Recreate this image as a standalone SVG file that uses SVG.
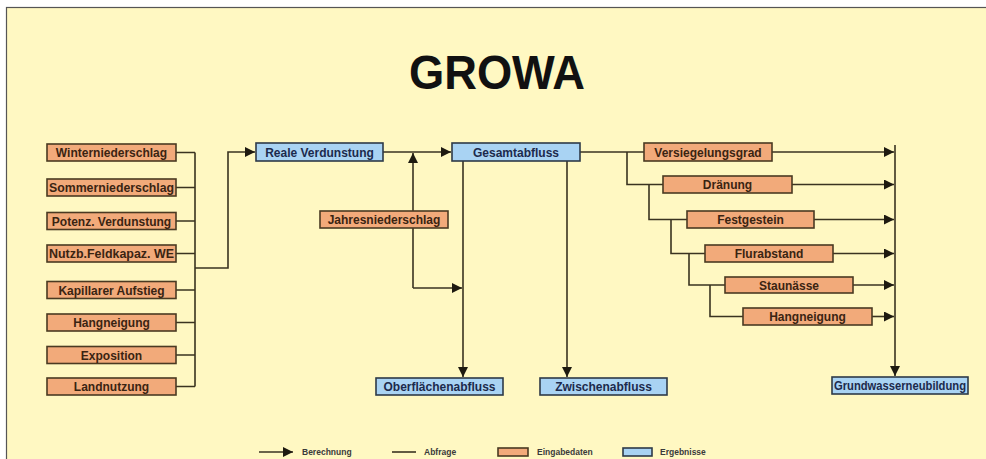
<svg xmlns="http://www.w3.org/2000/svg" width="986" height="459" viewBox="0 0 986 459">
<defs>
<marker id="arr" markerUnits="userSpaceOnUse" markerWidth="11" markerHeight="10" refX="10" refY="5" orient="auto">
<path d="M0,0 L10,5 L0,10 z" fill="#1e1a10"/>
</marker>
<style>
.in rect{fill:#f2aa7a;stroke:#4a3a22;stroke-width:1.6}
.out rect{fill:#a9d3f3;stroke:#2e3a48;stroke-width:1.6}
.in text{fill:#3a2412}
.out text{fill:#1c2a4c}
text{font-family:"Liberation Sans",Arial,sans-serif;font-weight:bold;font-size:12px;text-anchor:middle}
.c path,.c line{fill:none;stroke:#3a3320;stroke-width:1.6}
.lg{font-size:8.5px;text-anchor:start;fill:#3a3a3a}
</style>
</defs>
<rect x="0" y="0" width="986" height="459" fill="#ffffff"/>
<rect x="6.5" y="7.5" width="990" height="460" fill="#fff8c2" stroke="#555" stroke-width="1.2"/>
<text x="497" y="89" style="font-size:48px;fill:#111" textLength="176" lengthAdjust="spacingAndGlyphs">GROWA</text>

<g class="c">
<path d="M176,152.5 H195 M176,187.5 H195 M176,221 H195 M176,253.5 H195 M176,290 H195 M176,322.5 H195 M176,355 H195 M176,386.5 H195 M195,152.5 V386.5"/>
<path d="M195,268 H228 V152 H255" marker-end="url(#arr)"/>
<path d="M383,152 H451" marker-end="url(#arr)"/>
<path d="M413,288 V153" marker-end="url(#arr)"/>
<path d="M413,288 H462" marker-end="url(#arr)"/>
<path d="M463,161 V377" marker-end="url(#arr)"/>
<path d="M567,161 V377" marker-end="url(#arr)"/>
<path d="M580,152 H644"/>
<path d="M627,152 V184.5 H663 M649,184.5 V219.5 H687 M671,219.5 V253.5 H705 M689,253.5 V285 H725 M710,285 V316.5 H743"/>
<path d="M772,152 H894" marker-end="url(#arr)"/>
<path d="M792,184.5 H894" marker-end="url(#arr)"/>
<path d="M814,219.5 H894" marker-end="url(#arr)"/>
<path d="M833,253.5 H894" marker-end="url(#arr)"/>
<path d="M853,285 H894" marker-end="url(#arr)"/>
<path d="M872,316.5 H894" marker-end="url(#arr)"/>
<path d="M895,145 V376" marker-end="url(#arr)"/>
</g>

<g id="n-winter" class="in"><rect x="47" y="144" width="129" height="17"/><text x="111.5" y="157">Winterniederschlag</text></g>
<g id="n-sommer" class="in"><rect x="47" y="179" width="129" height="17"/><text x="111.5" y="192" textLength="125" lengthAdjust="spacingAndGlyphs">Sommerniederschlag</text></g>
<g id="n-potenz" class="in"><rect x="47" y="212.5" width="129" height="17"/><text x="111.5" y="225.5">Potenz. Verdunstung</text></g>
<g id="n-nutzb" class="in"><rect x="47" y="245" width="129" height="17"/><text x="111.5" y="258" textLength="125" lengthAdjust="spacingAndGlyphs">Nutzb.Feldkapaz. WE</text></g>
<g id="n-kapillar" class="in"><rect x="47" y="281.5" width="129" height="17"/><text x="111.5" y="294.5">Kapillarer Aufstieg</text></g>
<g id="n-hang1" class="in"><rect x="47" y="314" width="129" height="17"/><text x="111.5" y="327">Hangneigung</text></g>
<g id="n-expo" class="in"><rect x="47" y="346.5" width="129" height="17"/><text x="111.5" y="359.5">Exposition</text></g>
<g id="n-land" class="in"><rect x="47" y="378" width="129" height="17"/><text x="111.5" y="391">Landnutzung</text></g>

<g id="n-reale" class="out"><rect x="256" y="143" width="127" height="18"/><text x="319.5" y="156.5">Reale Verdunstung</text></g>
<g id="n-gesamt" class="out"><rect x="452" y="143" width="128" height="18"/><text x="516" y="156.5">Gesamtabfluss</text></g>
<g id="n-jahres" class="in"><rect x="320" y="211" width="128" height="17"/><text x="384" y="224">Jahresniederschlag</text></g>
<g id="n-ober" class="out"><rect x="376" y="378" width="127" height="17"/><text x="439.5" y="391">Oberflächenabfluss</text></g>
<g id="n-zwischen" class="out"><rect x="540" y="378" width="127" height="17"/><text x="603.5" y="391">Zwischenabfluss</text></g>
<g id="n-grund" class="out"><rect x="832" y="377" width="136" height="17"/><text x="900" y="390" textLength="132" lengthAdjust="spacingAndGlyphs">Grundwasserneubildung</text></g>

<g id="n-versieg" class="in"><rect x="644" y="143" width="128" height="18"/><text x="708" y="156.5">Versiegelungsgrad</text></g>
<g id="n-draen" class="in"><rect x="663" y="176" width="129" height="17"/><text x="727.5" y="189">Dränung</text></g>
<g id="n-fest" class="in"><rect x="687" y="211" width="127" height="17"/><text x="750.5" y="224">Festgestein</text></g>
<g id="n-flur" class="in"><rect x="705" y="245" width="128" height="17"/><text x="769" y="258">Flurabstand</text></g>
<g id="n-stau" class="in"><rect x="725" y="277" width="128" height="16"/><text x="789" y="289.5">Staunässe</text></g>
<g id="n-hang2" class="in"><rect x="743" y="308" width="129" height="17"/><text x="807.5" y="321">Hangneigung</text></g>

<g id="legend">
<g class="c"><path d="M259,452 H293" marker-end="url(#arr)"/><path d="M392,452 H416"/></g>
<text class="lg" x="302" y="455">Berechnung</text>
<text class="lg" x="424" y="455">Abfrage</text>
<g class="in"><rect x="498" y="448" width="30" height="8"/></g>
<text class="lg" x="537" y="455">Eingabedaten</text>
<g class="out"><rect x="623" y="448" width="29" height="8"/></g>
<text class="lg" x="660" y="455">Ergebnisse</text>
</g>
</svg>
